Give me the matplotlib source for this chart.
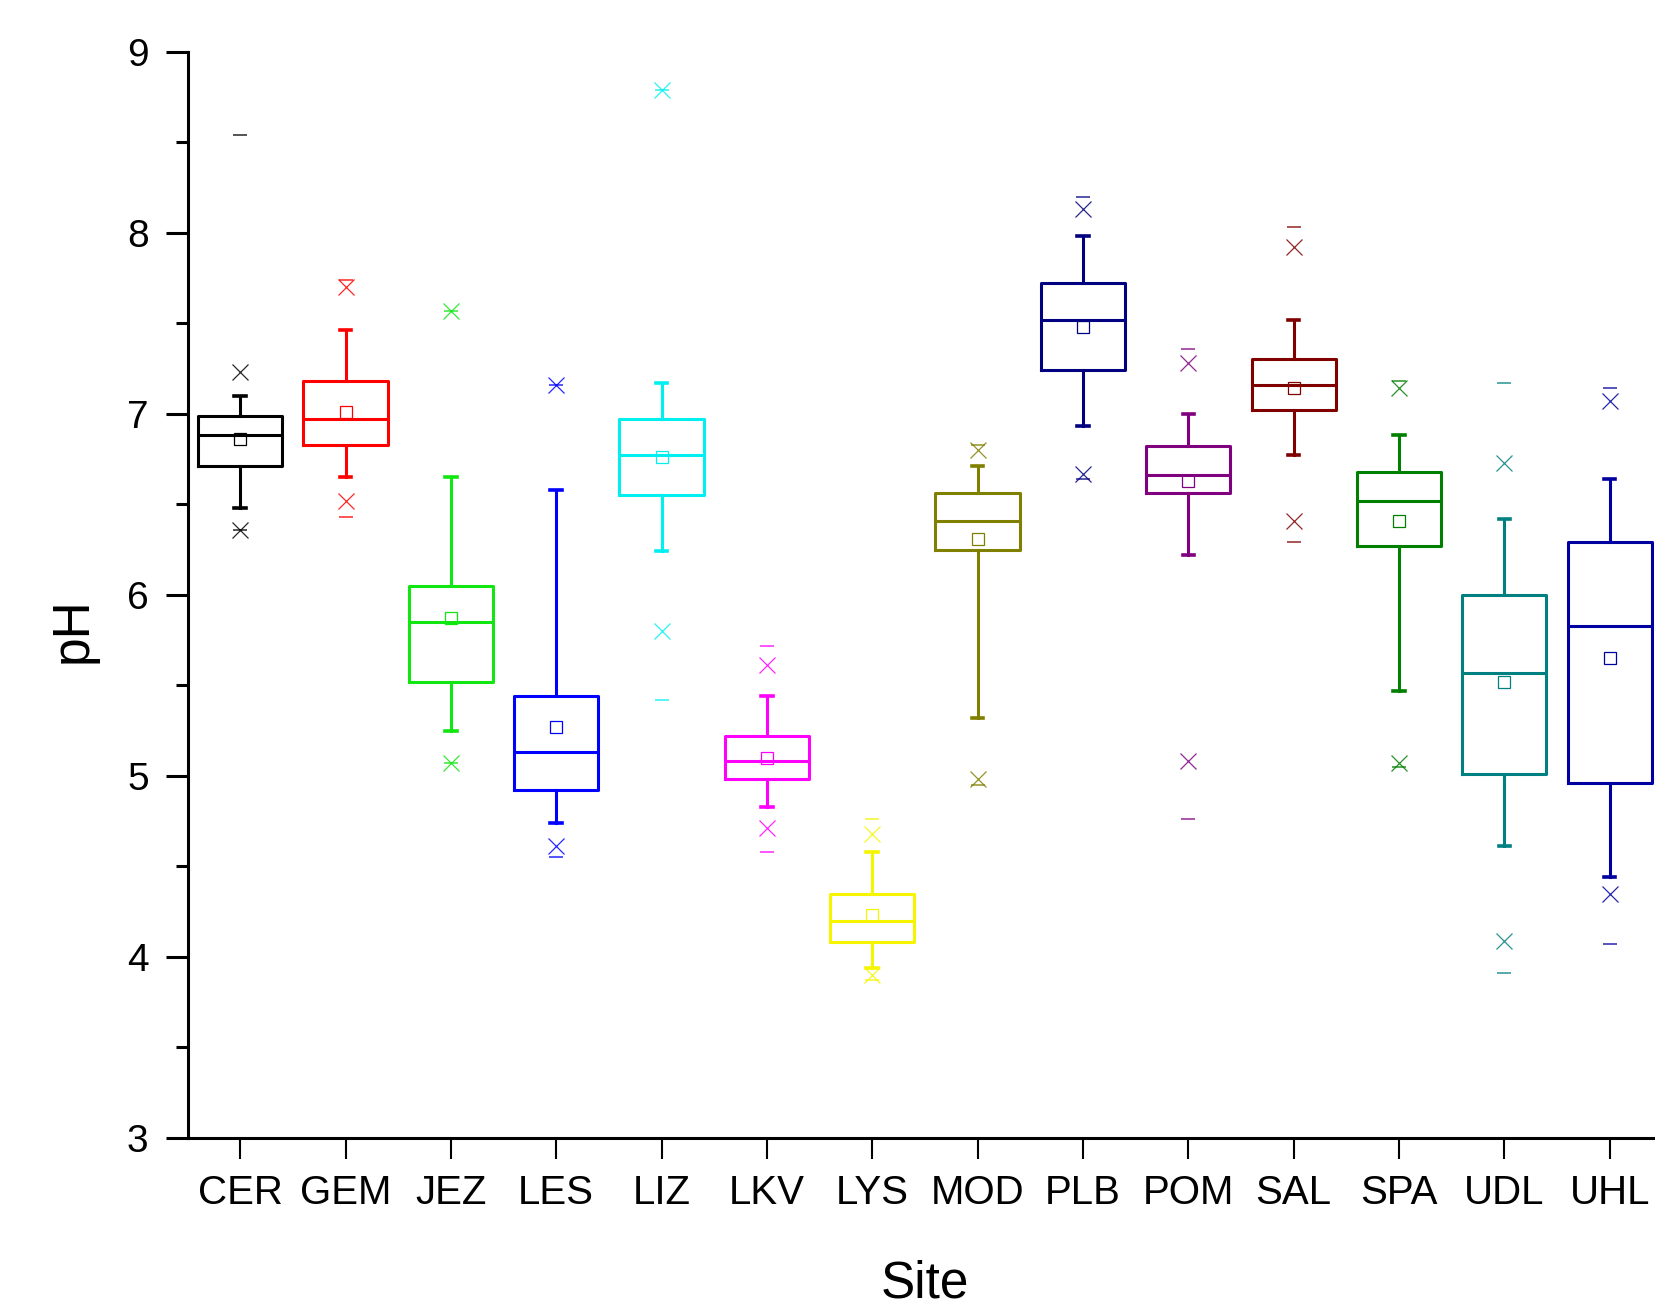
import matplotlib
matplotlib.use("Agg")
import matplotlib.pyplot as plt
from matplotlib.ticker import MultipleLocator

plt.rcParams['font.family'] = ['Liberation Sans', 'DejaVu Sans']

# pH summary per site
sites = ['CER', 'GEM', 'JEZ', 'LES', 'LIZ', 'LKV', 'LYS',
         'MOD', 'PLB', 'POM', 'SAL', 'SPA', 'UDL', 'UHL']
q1 = [6.71, 6.83, 5.52, 4.92, 6.55, 4.98, 4.08, 6.25, 7.24, 6.56, 7.02, 6.27, 5.01, 4.96]
median = [6.88, 6.97, 5.85, 5.13, 6.77, 5.08, 4.20, 6.41, 7.52, 6.66, 7.16, 6.52, 5.57, 5.83]
q3 = [6.99, 7.18, 6.05, 5.44, 6.97, 5.22, 4.35, 6.56, 7.72, 6.82, 7.30, 6.68, 6.00, 6.29]
mean = [6.86, 7.01, 5.87, 5.27, 6.76, 5.10, 4.23, 6.31, 7.48, 6.63, 7.14, 6.41, 5.52, 5.65]
whis_lo = [6.48, 6.65, 5.25, 4.74, 6.24, 4.83, 3.94, 5.32, 6.93, 6.22, 6.77, 5.47, 4.61, 4.44]
whis_hi = [7.10, 7.46, 6.65, 6.58, 7.17, 5.44, 4.58, 6.71, 7.98, 7.00, 7.52, 6.88, 6.42, 6.64]
p1 = [6.36, 6.52, 5.07, 4.61, 5.80, 4.71, 3.90, 4.98, 6.67, 5.08, 6.41, 5.07, 4.09, 4.35]
p99 = [7.23, 7.70, 7.57, 7.16, 8.79, 5.61, 4.68, 6.80, 8.13, 7.28, 7.92, 7.14, 6.73, 7.07]
vmin = [6.36, 6.43, 5.07, 4.55, 5.42, 4.58, 3.87, 4.95, 6.64, 4.76, 6.29, 5.05, 3.91, 4.07]
vmax = [8.54, 7.74, 7.57, 7.16, 8.79, 5.72, 4.76, 6.83, 8.20, 7.36, 8.03, 7.18, 7.17, 7.14]

colors = ['#000000', '#FF0000', '#11E611', '#0000FF', '#00F0F0', '#FF00FF', '#F5F500',
          '#808000', '#000080', '#800080', '#800000', '#008000', '#008080', '#0000A0']

fig = plt.figure(figsize=(16.55, 13.05), dpi=100)
ax = fig.add_axes([0.1133, 0.128, 1 - 0.1133, 0.8324])

for i, site in enumerate(sites):
    pos = i + 1
    c = colors[i]
    stats = [dict(med=median[i], q1=q1[i], q3=q3[i], whislo=whis_lo[i],
                  whishi=whis_hi[i], mean=mean[i], fliers=[], label=site)]
    ax.bxp(stats, positions=[pos], widths=0.8, capwidths=0.11,
           showmeans=True, showfliers=False,
           boxprops=dict(color=c, linewidth=2.2),
           medianprops=dict(color=c, linewidth=2.2),
           whiskerprops=dict(color=c, linewidth=2.2),
           capprops=dict(color=c, linewidth=2.6),
           meanprops=dict(marker='s', markerfacecolor='none', markeredgecolor=c,
                          markersize=8.5, markeredgewidth=0.9))
    # 1% / 99% markers
    ax.plot([pos, pos], [p1[i], p99[i]], linestyle='none', marker='x',
            markersize=11, markeredgewidth=0.9, color=c, alpha=0.85)
    # min / max markers
    ax.plot([pos, pos], [vmin[i], vmax[i]], linestyle='none', marker='_',
            markersize=10, markeredgewidth=1.1, color=c, alpha=0.85)

ax.set_xlim(0.5, 14.43)
ax.set_ylim(3, 9)
ax.set_xticks(range(1, len(sites) + 1))
ax.set_xticklabels(sites)
ax.yaxis.set_major_locator(MultipleLocator(1))
ax.yaxis.set_minor_locator(MultipleLocator(0.5))

for side in ['top', 'right']:
    ax.spines[side].set_visible(False)
for side in ['left', 'bottom']:
    ax.spines[side].set_linewidth(2.2)

ax.tick_params(axis='y', which='major', length=16, width=2.2, labelsize=28, pad=12)
ax.tick_params(axis='y', which='minor', length=8.5, width=2.2)
ax.tick_params(axis='x', which='major', length=15, width=1.5, labelsize=29, pad=11)

fig.text(0.5587, 0.0061, 'Site', ha='center', va='baseline', fontsize=37)
fig.text(0.0524, 0.5172, 'pH', ha='center', va='baseline', fontsize=37,
         rotation=90, rotation_mode='anchor')

fig.savefig('out.png', dpi=100, facecolor='white')
